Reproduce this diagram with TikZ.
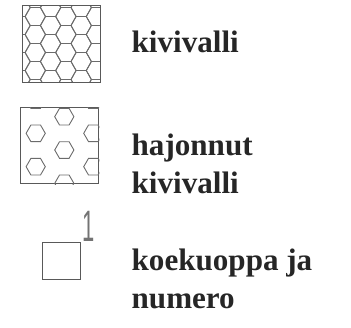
\documentclass[tikz,border=0pt]{standalone}
\usepackage{graphicx}
\usepackage{fontspec}
\setmainfont{Liberation Serif}
\newfontfamily\labelfont{Liberation Serif}
\newfontfamily\numfont{Liberation Sans}
\begin{document}
\begin{tikzpicture}[x=1pt,y=-1pt,
  boxline/.style={draw=black!65,line width=1.1pt,inner sep=0pt,anchor=north west},
  hexline/.style={draw=black!58,line width=0.9pt},
  legendtext/.style={anchor=base west,inner sep=0pt,font=\labelfont\bfseries\fontsize{31.1}{38}\selectfont,text=black!85}]
\useasboundingbox (0,0) rectangle (351,327);
% box 1: kivivalli
\node[boxline,minimum width=77.5pt,minimum height=76.7pt] (b1) at (22,5) {};
\begin{scope}
\clip (b1.north west) rectangle (b1.south east);
\foreach \k in {-2,...,5}{
  \foreach \m in {-1,...,5}{
    \pgfmathsetmacro\cx{35.3+15.3*\k}
    \pgfmathsetmacro\cy{16.5+18*\m-9*mod(abs(\k),2)}
    \draw[hexline] (\cx+10.2,\cy) -- ++(-5.1,9) -- ++(-10.2,0) -- ++(-5.1,-9) -- ++(5.1,-9) -- ++(10.2,0) -- cycle;
  }
}
\end{scope}
\node[boxline,minimum width=77.5pt,minimum height=76.7pt] at (22,5) {};
% box 2: hajonnut kivivalli
\node[boxline,minimum width=78pt,minimum height=76pt] (b2) at (20.3,107.3) {};
\begin{scope}
\clip (b2.north west) rectangle (b2.south east);
\foreach \cx/\cy in {35.7/100,93.3/100,64.3/116.7,35.7/133.3,93.3/133.3,64.3/150,35.7/166.7,93.3/166.7,64.3/183.3}{
  \draw[hexline] (\cx+9.6,\cy) -- ++(-4.8,8.3) -- ++(-9.6,0) -- ++(-4.8,-8.3) -- ++(4.8,-8.3) -- ++(9.6,0) -- cycle;
}
\end{scope}
% box 3: koekuoppa
\node[boxline,minimum width=37.7pt,minimum height=37.3pt] (b3) at (42.3,241.7) {};
\node[anchor=base,inner sep=0pt,font=\numfont\fontsize{44}{44}\selectfont,text=black!55] (n1) at (88.5,241.7) {\scalebox{0.5}[1]{1}};
% labels
\node[legendtext] (t1) at (131.5,52) {kivivalli};
\node[legendtext] (t2a) at (131.5,155) {hajonnut};
\node[legendtext] (t2b) at (131.5,193.3) {kivivalli};
\node[legendtext] (t3a) at (131.5,270) {koekuoppa ja};
\node[legendtext] (t3b) at (131.5,308) {numero};
\end{tikzpicture}
\end{document}
